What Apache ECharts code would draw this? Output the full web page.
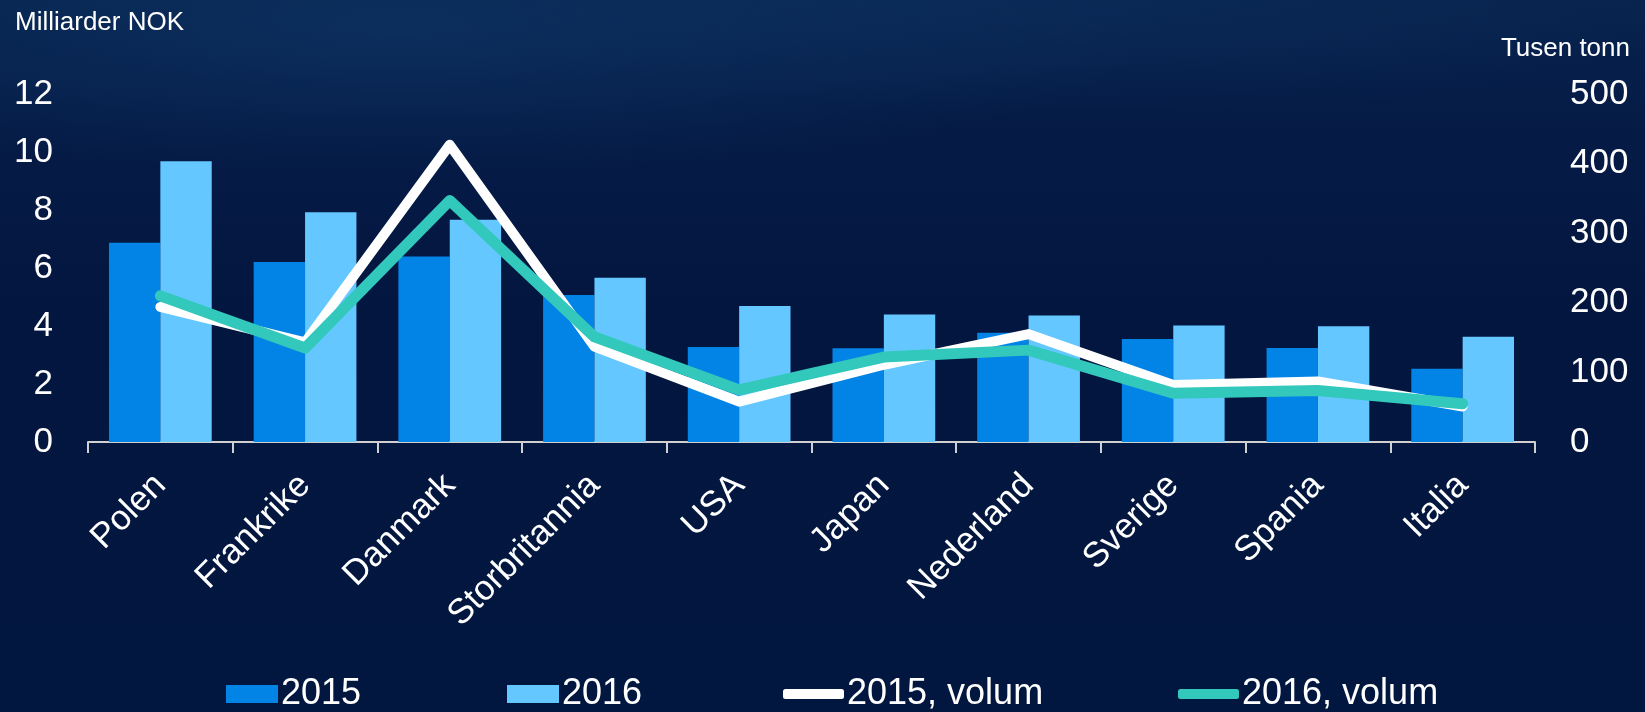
<!DOCTYPE html>
<html>
<head>
<meta charset="utf-8">
<script src="https://cdn.jsdelivr.net/npm/echarts@6/dist/echarts.min.js"></script>
<style>
html,body{margin:0;padding:0;width:1645px;height:712px;overflow:hidden;}
body{background:
  radial-gradient(ellipse 1000px 200px at 400px 30px, rgba(18,62,112,0.45), rgba(18,62,112,0) 75%),
  radial-gradient(ellipse 800px 140px at 1100px 10px, rgba(18,56,104,0.30), rgba(18,56,104,0) 75%),
  linear-gradient(180deg,#07234e 0%,#051b46 18%,#03163f 45%,#02173f 100%);}
#chart{width:1645px;height:712px;}
</style>
</head>
<body>
<div id="chart"></div>
<script>
const categories = ['Polen','Frankrike','Danmark','Storbritannia','USA','Japan','Nederland','Sverige','Spania','Italia'];
const value2015 = [6.87, 6.21, 6.40, 5.07, 3.28, 3.23, 3.77, 3.55, 3.24, 2.53];
const value2016 = [9.68, 7.92, 7.66, 5.66, 4.69, 4.40, 4.36, 4.02, 3.99, 3.63];
const volume2015 = [194, 143, 427, 137, 58, 111, 155, 82, 87, 51];
const volume2016 = [210, 135, 347, 151, 75, 122, 132, 70, 74, 55];
const seriesNames = ['2015','2016','2015, volum','2016, volum'];
const leftTicks = {min:0, max:12, interval:2};
const rightTicks = {min:0, max:500, interval:100};

const FONT = "'Liberation Sans', Arial, sans-serif";
const C2015 = '#0283e6', C2016 = '#64c7ff', CW = '#ffffff', CT = '#32c8bb';

const chart = echarts.init(document.getElementById('chart'), null, {renderer:'canvas'});
function legend(name, left, icon, w, h){
  return {data:[name], left:left, top:671, icon:icon, itemWidth:w, itemHeight:h, itemGap:0,
    textStyle:{color:'#fff', fontSize:36, fontFamily:FONT, padding:[0,0,0,-2]}};
}
chart.setOption({
  backgroundColor:'transparent',
  animation:false,
  textStyle:{fontFamily:FONT},
  grid:{left:88, right:110, top:94, bottom:270, containLabel:false},
  legend:[
    legend(seriesNames[0], 221, 'rect', 52, 18),
    legend(seriesNames[1], 502, 'rect', 52, 18),
    legend(seriesNames[2], 778, 'roundRect', 61, 10),
    legend(seriesNames[3], 1173, 'roundRect', 61, 10)
  ],
  graphic:[
    {type:'text', left:15, top:10, style:{text:'Milliarder NOK', fill:'#fff', font:"26px "+FONT}},
    {type:'text', right:15, top:36, style:{text:'Tusen tonn', fill:'#fff', font:"26px "+FONT}}
  ],
  xAxis:{
    type:'category', data:categories,
    axisLine:{lineStyle:{color:'#d0d0d0', width:2}},
    axisTick:{show:true, length:11, lineStyle:{color:'#d0d0d0', width:2}},
    axisLabel:{interval:0, rotate:45, color:'#fff', fontSize:35, fontFamily:FONT, margin:38}
  },
  yAxis:[
    {type:'value', min:leftTicks.min, max:leftTicks.max, interval:leftTicks.interval,
     splitLine:{show:false}, axisLine:{show:false}, axisTick:{show:false},
     axisLabel:{color:'#fff', fontSize:35, fontFamily:FONT, margin:35}},
    {type:'value', min:rightTicks.min, max:rightTicks.max, interval:rightTicks.interval,
     splitLine:{show:false}, axisLine:{show:false}, axisTick:{show:false},
     axisLabel:{color:'#fff', fontSize:35, fontFamily:FONT, margin:35}}
  ],
  series:[
    {name:seriesNames[0], type:'bar', data:value2015, barGap:'0%', barCategoryGap:'29%',
     itemStyle:{color:C2015}},
    {name:seriesNames[1], type:'bar', data:value2016, barGap:'0%', barCategoryGap:'29%',
     itemStyle:{color:C2016}},
    {name:seriesNames[2], type:'line', yAxisIndex:1, data:volume2015, showSymbol:false, symbol:'none',
     itemStyle:{color:CW}, lineStyle:{color:CW, width:10, cap:'round', join:'round'}},
    {name:seriesNames[3], type:'line', yAxisIndex:1, data:volume2016, showSymbol:false, symbol:'none',
     itemStyle:{color:CT}, lineStyle:{color:CT, width:11, cap:'round', join:'round'}}
  ]
});
</script>
</body>
</html>
